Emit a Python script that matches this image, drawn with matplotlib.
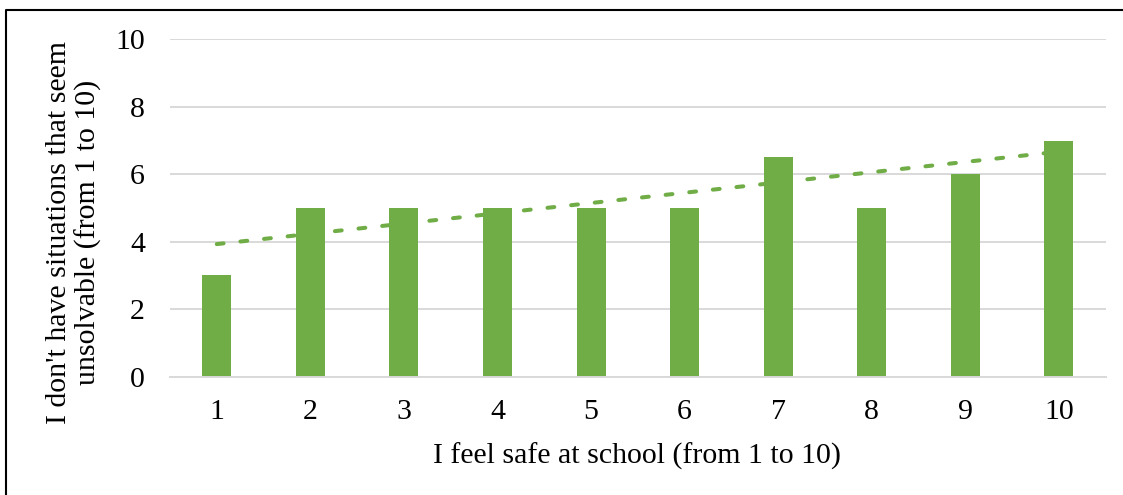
import matplotlib
matplotlib.use("Agg")
import matplotlib.pyplot as plt
from matplotlib.lines import Line2D

# survey answers: safety score vs. "no unsolvable situations" score
safety_scores = [1, 2, 3, 4, 5, 6, 7, 8, 9, 10]
solvable_scores = [3, 5, 5, 5, 5, 5, 6.5, 5, 6, 7]
trend_x = [1, 10]
trend_y = [3.93, 6.67]
y_ticks = [0, 2, 4, 6, 8, 10]

GREEN = "#70AD47"
GRID = "#D9D9D9"
FONT = "Liberation Serif"
FS = 21.5

W, H = 1123, 495
fig = plt.figure(figsize=(W / 100, H / 100), dpi=100)
fig.patch.set_facecolor("white")

ax = fig.add_axes([170 / W, 1 - 376.7 / H, (1105.7 - 170) / W, (376.7 - 39.3) / H])
ax.bar(safety_scores, solvable_scores, width=0.31, color=GREEN, zorder=2)
ax.plot(trend_x, trend_y, color=GREEN, lw=2.9, dashes=(1.7, 4.2),
        dash_capstyle="round", zorder=3)

ax.set_xlim(0.5, 10.5)
ax.set_ylim(0, 10)
ax.set_yticks(y_ticks)
ax.set_xticks(safety_scores)
ax.grid(axis="y", color=GRID, lw=1.4, zorder=0)
for name, sp in ax.spines.items():
    if name == "bottom":
        sp.set_color(GRID)
        sp.set_linewidth(1.4)
    else:
        sp.set_visible(False)
ax.tick_params(length=0, labelsize=FS)
ax.tick_params(axis="y", pad=18)
ax.tick_params(axis="x", pad=16)
for lab in ax.get_xticklabels() + ax.get_yticklabels():
    lab.set_fontfamily(FONT)

fig.text(637 / W, 1 - 456 / H, "I feel safe at school (from 1 to 10)",
         ha="center", va="center", fontsize=FS, family=FONT)
fig.text(74 / W, 1 - 232 / H,
         "I don't have situations that seem\nunsolvable (from 1 to 10)",
         ha="center", va="center", rotation=90, fontsize=FS, family=FONT,
         multialignment="center", linespacing=1.15)

# outer frame (top and left edges)
fig.add_artist(Line2D([6 / W, 6 / W, 1], [0, 1 - 10 / H, 1 - 10 / H],
                      transform=fig.transFigure, color="black", lw=1.5))

fig.savefig("out.png", dpi=100, facecolor="white")
